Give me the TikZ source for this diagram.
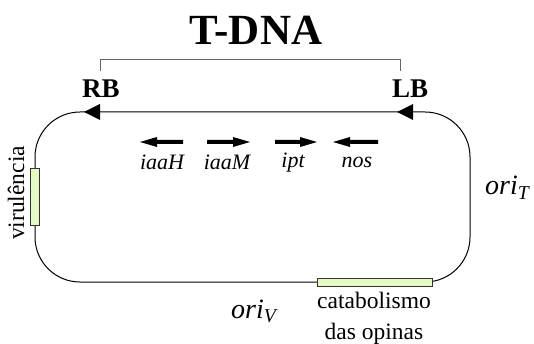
\documentclass[tikz,border=0pt]{standalone}
\usepackage{fontspec}
\setmainfont{Liberation Serif}
\definecolor{regiongreen}{RGB}{230,250,196}
\begin{document}
\begin{tikzpicture}[x=1pt,y=-1pt,
  loopline/.style={line width=1pt,black},
  tri/.style={fill=black},
  genearrow/.style={fill=black},
  region/.style={draw=black!80,fill=regiongreen,line width=0.9pt},
  genelabel/.style={font=\fontsize{22}{24}\selectfont\itshape,inner sep=0pt},
  border/.style={font=\fontsize{27}{28}\selectfont\bfseries,inner sep=0pt},
  plain/.style={font=\fontsize{23.5}{31}\selectfont,inner sep=0pt,align=center},
  orilabel/.style={font=\fontsize{28}{30}\selectfont,inner sep=0pt}]
\useasboundingbox (0,0) rectangle (534,344);
% loop
\draw[loopline,rounded corners=45pt] (250,112) -- (470,112) -- (470,282) -- (35,282) -- (35,112) -- (250,112);
% loop arrowheads
\fill[tri] (84,112) -- (100,104) -- (100,120) -- cycle;
\fill[tri] (397,112) -- (413,104) -- (413,120) -- cycle;
% regions on loop
\node[region,minimum width=9pt,minimum height=57pt,inner sep=0pt] (vir) at (34.5,196.5) {};
\node[region,minimum width=115pt,minimum height=8pt,inner sep=0pt] (cat) at (374.5,282) {};
% title and bracket
\node[font=\fontsize{43}{46}\selectfont\bfseries,inner sep=0pt] (tdna) at (256,30) {T-DNA};
\draw[black!60,line width=1pt] (100,71) -- (100,60) -- (400,60) -- (400,71);
\node[border] (rb) at (101,89) {RB};
\node[border] (lb) at (410,89) {LB};
% genes
\fill[genearrow] (140,142) -- (157,137) -- (157,140) -- (183,140) -- (183,144) -- (157,144) -- (157,147) -- cycle;
\fill[genearrow] (250,142) -- (233,137) -- (233,140) -- (207,140) -- (207,144) -- (233,144) -- (233,147) -- cycle;
\fill[genearrow] (317,142) -- (300,137) -- (300,140) -- (275,140) -- (275,144) -- (300,144) -- (300,147) -- cycle;
\fill[genearrow] (333,142) -- (350,137) -- (350,140) -- (378,140) -- (378,144) -- (350,144) -- (350,147) -- cycle;
\node[genelabel] (iaaH) at (162,162) {iaaH};
\node[genelabel] (iaaM) at (227,162) {iaaM};
\node[genelabel] (ipt) at (293,163) {ipt};
\node[genelabel] (nos) at (357,162) {nos};
% labels
\node[plain,rotate=90] (virlab) at (16,193) {virulência};
\node[plain] (catlab) at (374,318) {catabolismo\\das opinas};
\node[orilabel,anchor=base west] (oriT) at (485,195) {\textit{ori}$_{\mathit{T}}$};
\node[orilabel,anchor=base west] (oriV) at (231,318) {\textit{ori}$_{\mathit{V}}$};
\end{tikzpicture}
\end{document}
